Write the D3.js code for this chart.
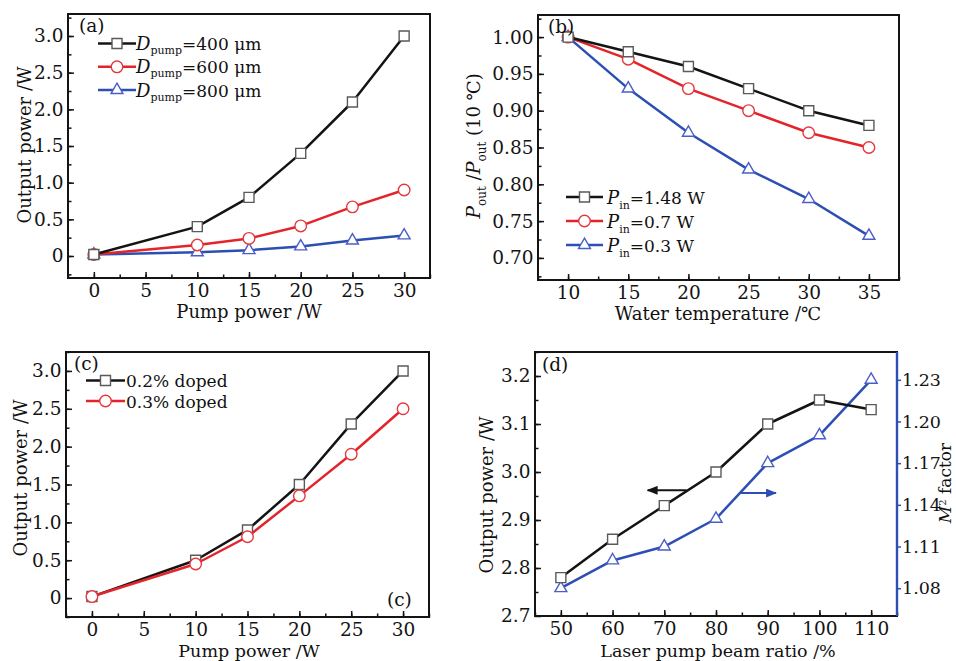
<!DOCTYPE html>
<html>
<head>
<meta charset="utf-8">
<script src="https://cdn.jsdelivr.net/npm/d3@7"></script>
<style>
  body { margin: 0; background: #fff; }
  text { font-family: "DejaVu Serif", "Liberation Serif", serif; fill: #111; }
</style>
</head>
<body>
<svg id="chart" width="956" height="661"></svg>
<script>
// (a) 不同泵浦光斑直径
const pumpPowerA = [0, 10, 15, 20, 25, 30];
const outD400 = [0.02, 0.40, 0.80, 1.40, 2.10, 3.00];
const outD600 = [0.02, 0.15, 0.24, 0.41, 0.67, 0.90];
const outD800 = [0.02, 0.05, 0.08, 0.13, 0.21, 0.28];
const legendA = ['400 μm', '600 μm', '800 μm'];

// (b) 水温
const waterTemp = [10, 15, 20, 25, 30, 35];
const ratioP148 = [1.00, 0.98, 0.96, 0.93, 0.90, 0.88];
const ratioP07 = [1.00, 0.97, 0.93, 0.90, 0.87, 0.85];
const ratioP03 = [1.00, 0.93, 0.87, 0.82, 0.78, 0.73];
const legendB = ['1.48 W', '0.7 W', '0.3 W'];

// (c) 掺杂浓度
const pumpPowerC = [0, 10, 15, 20, 25, 30];
const outDoped02 = [0.02, 0.50, 0.90, 1.50, 2.30, 3.00];
const outDoped03 = [0.02, 0.45, 0.81, 1.35, 1.90, 2.50];
const legendC = ['0.2% doped', '0.3% doped'];

// (d) 光束比
const beamRatio = [50, 60, 70, 80, 90, 100, 110];
const outPowerD = [2.78, 2.86, 2.93, 3.00, 3.10, 3.15, 3.13];
const m2Factor = [1.08, 1.10, 1.11, 1.13, 1.17, 1.19, 1.23];
// 箭头 [x起点, x终点, y]
const arrowLeft = [74.3, 66.8, 2.962];
const arrowRight = [84.6, 91.6, 1.1485];

const BLACK = '#141414', RED = '#e3252b', BLUE = '#2d4fb3';
const TICK_FONT = 18.5;
const svg = d3.select('#chart');

// 箭头定义
const defs = svg.append('defs');
[['arrBlack', BLACK], ['arrBlue', BLUE]].forEach(([id, c]) => {
  defs.append('marker')
    .attr('id', id)
    .attr('viewBox', '0 -4 10 8')
    .attr('refX', 9).attr('refY', 0)
    .attr('markerUnits', 'userSpaceOnUse')
    .attr('markerWidth', 11).attr('markerHeight', 9)
    .attr('orient', 'auto')
    .append('path').attr('d', 'M0,-4L10,0L0,4Z').attr('fill', c);
});

function makePanel (box, xDomain, yDomain) {
  const x = d3.scaleLinear().domain(xDomain).range([box.left, box.right]);
  const y = d3.scaleLinear().domain(yDomain).range([box.bottom, box.top]);
  const g = svg.append('g');
  return { g, x, y, box };
}

function styleAxis (sel, color, size) {
  sel.attr('font-size', size || TICK_FONT).attr('font-family', null);
  sel.select('.domain').remove();
  sel.selectAll('line').attr('stroke', color || BLACK).attr('stroke-width', 1.5);
  sel.selectAll('text').style('fill', BLACK);
}

function drawAxes (p, opt) {
  const { g, x, y, box } = p;
  // 次刻度
  g.append('g').attr('transform', `translate(0,${box.bottom})`)
    .call(d3.axisBottom(x).tickValues(opt.xMinor).tickSize(-3.5).tickFormat(''))
    .call(s => styleAxis(s));
  g.append('g').attr('transform', `translate(${box.left},0)`)
    .call(d3.axisLeft(y).tickValues(opt.yMinor).tickSize(-3.5).tickFormat(''))
    .call(s => styleAxis(s));
  // 主刻度
  g.append('g').attr('transform', `translate(0,${box.bottom})`)
    .call(d3.axisBottom(x).tickValues(opt.xMajor).tickSize(-6).tickPadding(6).tickFormat(d3.format('d')))
    .call(s => styleAxis(s));
  g.append('g').attr('transform', `translate(${box.left},0)`)
    .call(d3.axisLeft(y).tickValues(opt.yMajor).tickSize(-6).tickPadding(4.5).tickFormat(opt.yFmt))
    .call(s => styleAxis(s));
}

function drawFrame (p) {
  const { g, box } = p;
  g.append('rect')
    .attr('x', box.left).attr('y', box.top)
    .attr('width', box.right - box.left).attr('height', box.bottom - box.top)
    .attr('fill', 'none').attr('stroke', BLACK).attr('stroke-width', 2);
}

function markerPath (shape) {
  if (shape === 'square') return d3.symbol(d3.symbolSquare, 100)();
  if (shape === 'circle') return d3.symbol(d3.symbolCircle, 105)();
  return d3.symbol(d3.symbolTriangle, 62)();
}
const markerStroke = { square: '#5a5a5a', circle: '#e5383d', triangle: '#4a5ec8' };

function drawSeries (p, xs, ys, color, shape, yScale) {
  const y = yScale || p.y;
  const pts = xs.map((d, i) => [p.x(d), y(ys[i])]);
  p.g.append('path')
    .attr('d', d3.line()(pts))
    .attr('fill', 'none').attr('stroke', color).attr('stroke-width', 2.5)
    .attr('stroke-linejoin', 'round');
  p.g.selectAll(null).data(pts).join('path')
    .attr('transform', d => `translate(${d[0]},${d[1]})`)
    .attr('d', markerPath(shape))
    .attr('fill', '#fff').attr('stroke', markerStroke[shape]).attr('stroke-width', 1.4);
}

function legendRow (g, x0, x1, y, color, shape) {
  g.append('line').attr('x1', x0).attr('x2', x1).attr('y1', y).attr('y2', y)
    .attr('stroke', color).attr('stroke-width', 2.5);
  g.append('path').attr('transform', `translate(${(x0 + x1) / 2},${y})`)
    .attr('d', markerPath(shape))
    .attr('fill', '#fff').attr('stroke', markerStroke[shape]).attr('stroke-width', 1.4);
}

function label (g, x, y, txt, size) {
  return g.append('text').attr('x', x).attr('y', y).attr('font-size', size || 17).text(txt);
}

function yTitle (g, x, y, txt) {
  return g.append('text').attr('transform', `translate(${x},${y}) rotate(-90)`)
    .attr('text-anchor', 'middle').attr('font-size', 18).text(txt);
}

function xTitle (g, x, y, txt, size) {
  return g.append('text').attr('x', x).attr('y', y)
    .attr('text-anchor', 'middle').attr('font-size', size || 18).text(txt);
}

const fmtOne = d => d === 0 ? '0' : d3.format('.1f')(d);

// ---------- (a) ----------
const pa = makePanel({ left: 68, right: 430, top: 14, bottom: 278 }, [-2.5, 32.5], [-0.3, 3.3]);
drawAxes(pa, {
  xMajor: d3.range(0, 31, 5), xMinor: d3.range(-2.5, 33, 2.5),
  yMajor: d3.range(0, 3.01, 0.5), yMinor: d3.range(-0.25, 3.3, 0.25), yFmt: fmtOne
});
drawSeries(pa, pumpPowerA, outD800, BLUE, 'triangle');
drawSeries(pa, pumpPowerA, outD600, RED, 'circle');
drawSeries(pa, pumpPowerA, outD400, BLACK, 'square');
drawFrame(pa);
label(pa.g, 79, 32, '(a)', 18.5);
[[BLACK, 'square'], [RED, 'circle'], [BLUE, 'triangle']].forEach(([c, s], i) => {
  const ry = 43.5 + i * 23.3;
  legendRow(pa.g, 98, 136, ry, c, s);
  const t = pa.g.append('text').attr('x', 136).attr('y', ry + 6.5).attr('font-size', 17);
  t.append('tspan').attr('font-style', 'italic').attr('font-size', 18).text('D');
  t.append('tspan').attr('font-size', 11).attr('dy', 4).text('pump');
  t.append('tspan').attr('dy', -4).text('=' + legendA[i]);
});
xTitle(pa.g, 249, 318, 'Pump power /W');
yTitle(pa.g, 31, 145, 'Output power /W');

// ---------- (b) ----------
const pb = makePanel({ left: 538, right: 899, top: 15, bottom: 280 }, [7.5, 37.5], [0.67, 1.03]);
drawAxes(pb, {
  xMajor: d3.range(10, 36, 5), xMinor: d3.range(7.5, 38, 2.5),
  yMajor: d3.range(0.70, 1.001, 0.05), yMinor: d3.range(0.675, 1.03, 0.025), yFmt: d3.format('.2f')
});
drawSeries(pb, waterTemp, ratioP03, BLUE, 'triangle');
drawSeries(pb, waterTemp, ratioP07, RED, 'circle');
drawSeries(pb, waterTemp, ratioP148, BLACK, 'square');
drawFrame(pb);
label(pb.g, 548, 33, '(b)', 18.5);
[[BLACK, 'square'], [RED, 'circle'], [BLUE, 'triangle']].forEach(([c, s], i) => {
  const ry = 197 + i * 24;
  legendRow(pb.g, 566, 603, ry, c, s);
  const t = pb.g.append('text').attr('x', 607).attr('y', ry + 6.5).attr('font-size', 17);
  t.append('tspan').attr('font-style', 'italic').attr('font-size', 18).text('P');
  t.append('tspan').attr('font-size', 11).attr('dy', 5).text('in');
  t.append('tspan').attr('dy', -5).text('=' + legendB[i]);
});
xTitle(pb.g, 718, 320, 'Water temperature /℃');
{
  const t = pb.g.append('text').attr('transform', 'translate(480,146) rotate(-90)')
    .attr('text-anchor', 'middle').attr('font-size', 18);
  t.append('tspan').attr('font-style', 'italic').attr('font-size', 19).text('P');
  t.append('tspan').attr('font-size', 12).attr('dy', 6).text('out');
  t.append('tspan').attr('dy', -6).text(' /');
  t.append('tspan').attr('font-style', 'italic').attr('font-size', 19).text('P');
  t.append('tspan').attr('font-size', 12).attr('dy', 6).text('out');
  t.append('tspan').attr('dy', -6).text(' (10 ℃)');
}

// ---------- (c) ----------
const pc = makePanel({ left: 66, right: 429, top: 352, bottom: 617 }, [-2.5, 32.5], [-0.25, 3.25]);
drawAxes(pc, {
  xMajor: d3.range(0, 31, 5), xMinor: d3.range(-2.5, 33, 2.5),
  yMajor: d3.range(0, 3.01, 0.5), yMinor: d3.range(-0.25, 3.3, 0.25), yFmt: fmtOne
});
drawSeries(pc, pumpPowerC, outDoped02, BLACK, 'square');
drawSeries(pc, pumpPowerC, outDoped03, RED, 'circle');
drawFrame(pc);
label(pc.g, 74, 370, '(c)', 18.5);
label(pc.g, 387, 606, '(c)', 18.5);
[[BLACK, 'square'], [RED, 'circle']].forEach(([c, s], i) => {
  const ry = 380.5 + i * 20.5;
  legendRow(pc.g, 86, 125, ry, c, s);
  label(pc.g, 126, ry + 6.5, legendC[i]);
});
xTitle(pc.g, 249, 656.5, 'Pump power /W', 17.5);
yTitle(pc.g, 27, 478, 'Output power /W');

// ---------- (d) ----------
const pd = makePanel({ left: 535, right: 897, top: 352, bottom: 616 }, [45, 115], [2.7, 3.25]);
const yRight = d3.scaleLinear().domain([1.06, 1.25]).range([616, 352]);
drawAxes(pd, {
  xMajor: d3.range(50, 111, 10), xMinor: d3.range(45, 116, 5),
  yMajor: d3.range(2.7, 3.201, 0.1), yMinor: d3.range(2.75, 3.26, 0.05), yFmt: d3.format('.1f')
});
pd.g.append('g').attr('transform', 'translate(897,0)')
  .call(d3.axisRight(yRight).tickValues(d3.range(1.08, 1.231, 0.03)).tickSize(4).tickPadding(1).tickFormat(d3.format('.2f')))
  .call(s => styleAxis(s, BLUE, 17.5));
drawSeries(pd, beamRatio, m2Factor, BLUE, 'triangle', yRight);
drawSeries(pd, beamRatio, outPowerD, BLACK, 'square');
drawFrame(pd);
pd.g.append('line').attr('x1', 897).attr('x2', 897).attr('y1', 352).attr('y2', 616)
  .attr('stroke', BLUE).attr('stroke-width', 2.4);
pd.g.append('line')
  .attr('x1', pd.x(arrowLeft[0])).attr('x2', pd.x(arrowLeft[1]))
  .attr('y1', pd.y(arrowLeft[2])).attr('y2', pd.y(arrowLeft[2]))
  .attr('stroke', BLACK).attr('stroke-width', 2).attr('marker-end', 'url(#arrBlack)');
pd.g.append('line')
  .attr('x1', pd.x(arrowRight[0])).attr('x2', pd.x(arrowRight[1]))
  .attr('y1', yRight(arrowRight[2])).attr('y2', yRight(arrowRight[2]))
  .attr('stroke', BLUE).attr('stroke-width', 2).attr('marker-end', 'url(#arrBlue)');
label(pd.g, 542, 371, '(d)', 18.5);
xTitle(pd.g, 718, 657, 'Laser pump beam ratio /%', 17.5);
yTitle(pd.g, 493, 495, 'Output power /W');
{
  const t = pd.g.append('text').attr('transform', 'translate(951,483) rotate(-90)')
    .attr('text-anchor', 'middle').attr('font-size', 17);
  t.append('tspan').attr('font-style', 'italic').text('M');
  t.append('tspan').attr('font-size', 10).attr('dy', -5).text('2');
  t.append('tspan').attr('dy', 5).text(' factor');
}
</script>
</body>
</html>
